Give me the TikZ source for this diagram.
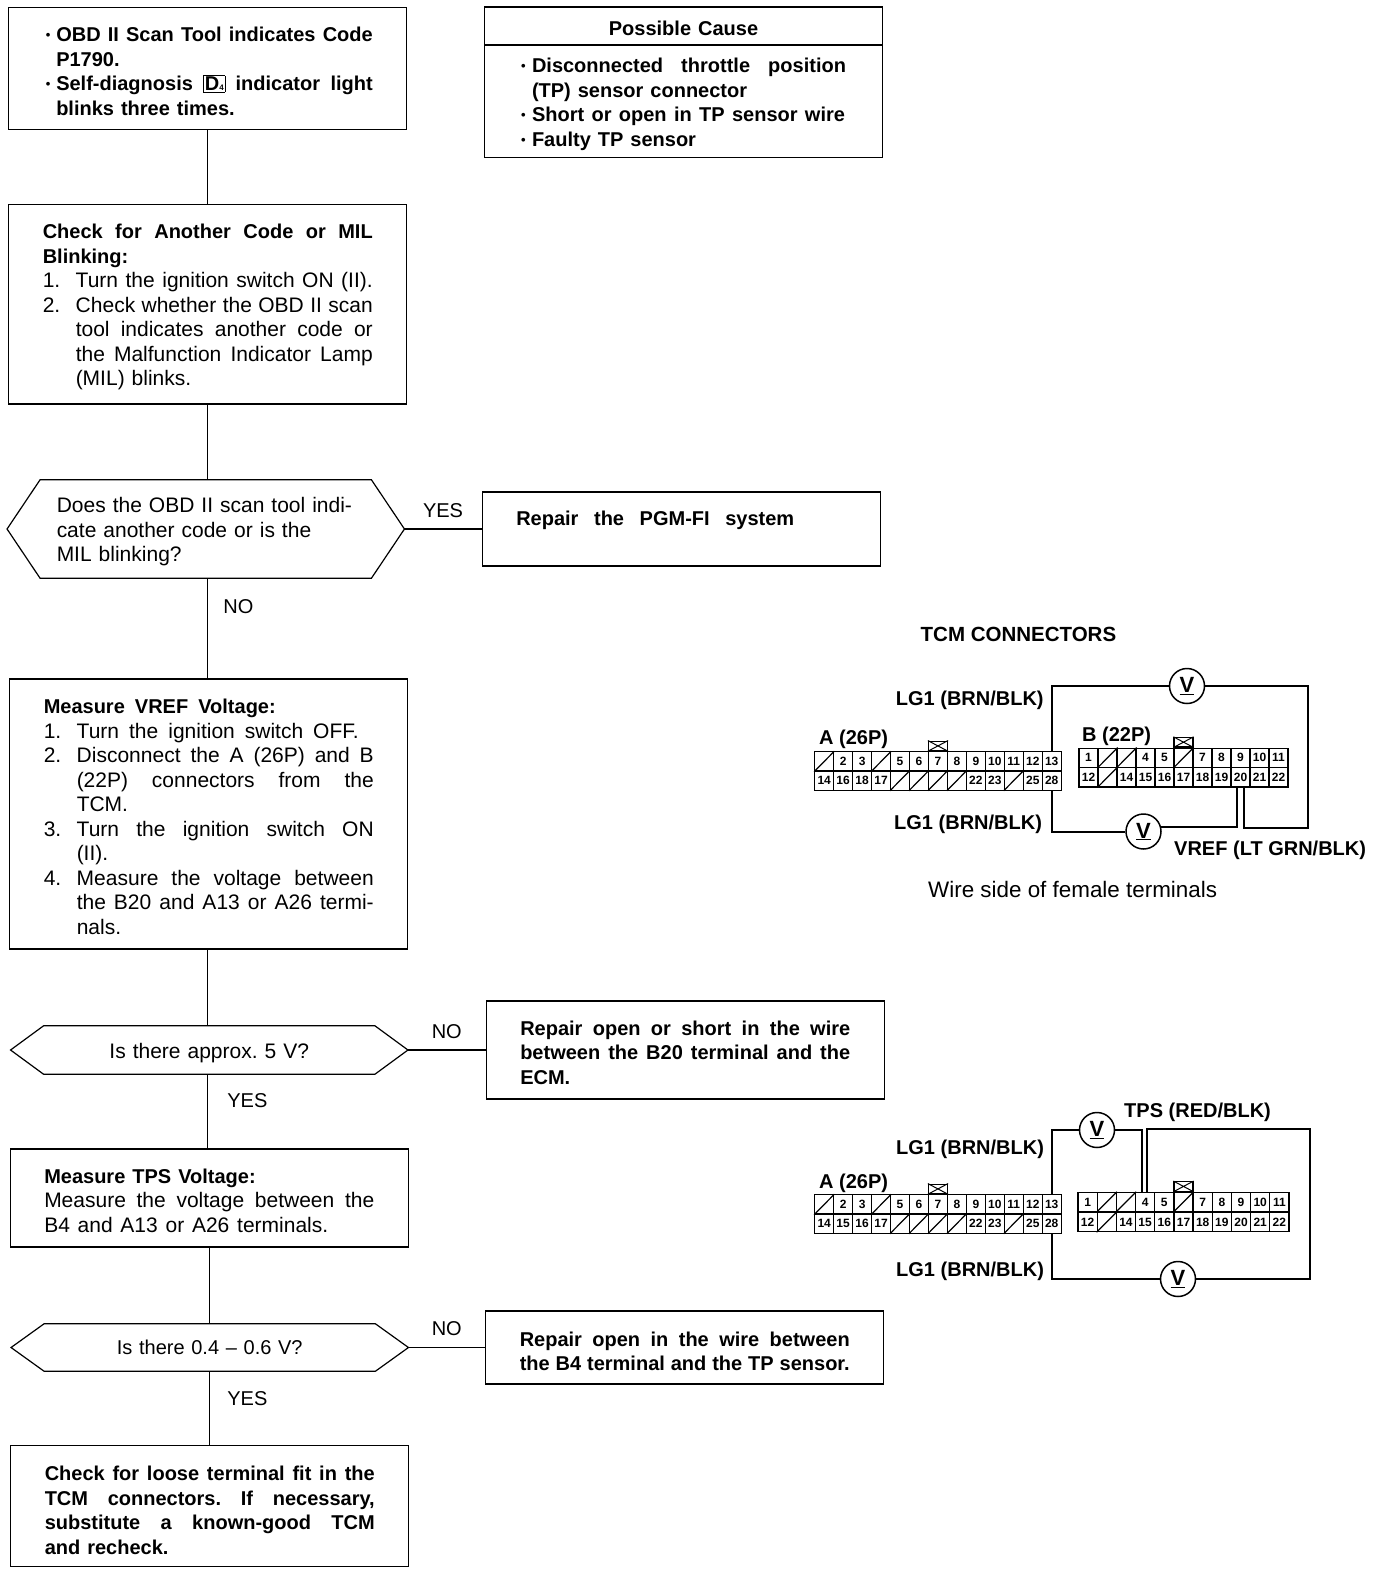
\documentclass[tikz,border=0pt]{standalone}
\usepackage{fontspec}
\setmainfont{Liberation Sans}
\usetikzlibrary{positioning}
\tikzset{
    block/.style = {draw, rectangle, line width=1.3pt, inner xsep=0pt, inner ysep=0pt,
        minimum width=398pt, text width=330pt, text height=20pt, align=left,
        font=\fontsize{21}{24.5}\selectfont\frenchspacing},
    hexa/.style = {rectangle, inner sep=0pt, minimum width=397pt, text width=330pt,
        text height=20pt, align=left, font=\fontsize{21}{24.5}\selectfont\frenchspacing},
    lab/.style = {inner sep=0pt, font=\fontsize{20}{24}\selectfont},
    tag/.style = {inner sep=0pt, anchor=base west, font=\fontsize{20}{24}\selectfont\bfseries},
    conn/.style = {draw, line width=1.2pt},
    wire/.style = {draw, line width=2pt},
    cell/.style = {draw, rectangle, line width=1.2pt, inner sep=0pt, minimum height=19.3pt,
        font=\fontsize{12}{12}\selectfont\bfseries},
    latch/.style = {draw, rectangle, line width=1.2pt, inner sep=0pt, minimum width=19pt, minimum height=9.5pt},
    meter/.style = {draw, circle, line width=1.5pt, inner sep=0pt, minimum size=35pt, fill=white,
        font=\fontsize{22}{22}\selectfont\bfseries}
}
\newcommand{\jline}[2][\hsize]{\leavevmode\hbox to #1{\spaceskip=.278em plus 1fil minus .2em #2}}
\newcommand{\bfs}{\fontsize{20}{24.5}\selectfont\bfseries}
\newcommand{\numit}[1]{\makebox[33pt][l]{#1}}
\newcommand{\dotmark}{{\fontsize{13}{13}\selectfont\raisebox{2pt}{•}}}
\newcommand{\bul}{\makebox[13.5pt][l]{\hspace{3pt}\dotmark}}
\newcommand{\connrow}[5]{%
    \foreach \t [count=\c] in {#5}
        \node [cell, minimum width=#4pt] (#1\c) at ({#2+(\c-.5)*#4},#3) {\t};
}
\begin{document}
\begin{tikzpicture}[x=1pt, y=-1pt]
    \useasboundingbox (0,0) rectangle (1376,1574);
    % flow column
    \node [block, minimum height=122pt] (start) at (207.75,68.5) {\bfs
        \jline{\bul OBD II Scan Tool indicates Code}\\
        \hspace*{13.5pt}P1790.\\
        \jline{\bul Self-diagnosis {\fboxsep=1pt\fbox{D\fontsize{8}{8}\selectfont 4}} indicator light}\\
        \hspace*{13.5pt}blinks three times.};
    \node [block, below of=start, node distance=235.8pt, minimum height=199.4pt] (check) {%
        \jline{\bfs Check for Another Code or MIL}\\
        {\bfs Blinking:}\\
        \jline{\numit{1.}Turn the ignition switch ON (II).}\\
        \jline{\numit{2.}Check whether the OBD II scan}\\
        \jline{\hspace{33pt}tool indicates another code or}\\
        \jline{\hspace{33pt}the Malfunction Indicator Lamp}\\
        \hspace*{33pt}(MIL) blinks.};
    \node [hexa, below of=check, node distance=224.7pt, xshift=-2pt, minimum height=98pt, text height=21pt] (dec1) {%
        \hspace*{16pt}Does the OBD II scan tool indi-\\
        \hspace*{16pt}cate another code or is the\\
        \hspace*{16pt}MIL blinking?};
    \node [block, below of=dec1, node distance=285pt, xshift=3pt, minimum height=270pt] (measv) {%
        \jline[232pt]{\bfs Measure VREF Voltage:}\\
        \jline[315pt]{\numit{1.}Turn the ignition switch OFF.}\\
        \jline{\numit{2.}Disconnect the A (26P) and B}\\
        \jline{\hspace{33pt}(22P) connectors from the}\\
        \hspace*{33pt}TCM.\\
        \jline{\numit{3.}Turn the ignition switch ON}\\
        \hspace*{33pt}(II).\\
        \jline{\numit{4.}Measure the voltage between}\\
        \jline{\hspace{33pt}the B20 and A13 or A26 termi-}\\
        \hspace*{33pt}nals.};
    \node [hexa, below of=measv, node distance=236pt, xshift=.5pt, minimum height=48pt, text height=22pt, align=center] (dec2) {Is there approx. 5 V?};
    \node [block, below of=dec2, node distance=148pt, minimum height=98pt] (meast) {%
        {\bfs Measure TPS Voltage:}\\
        \jline{Measure the voltage between the}\\
        \jline[284pt]{B4 and A13 or A26 terminals.}};
    \node [hexa, below of=meast, node distance=149.5pt, xshift=.5pt, minimum height=47pt, text height=15pt, align=center, font=\fontsize{20}{24}\selectfont] (dec3) {Is there 0.4 -- 0.6 V?};
    \node [block, below of=dec3, node distance=158.5pt, minimum height=121pt, text height=23pt] (final) {\bfs
        \jline{Check for loose terminal fit in the}\\
        \jline{TCM connectors. If necessary,}\\
        \jline{substitute a known-good TCM}\\
        and recheck.};
    \foreach \h in {dec1,dec2,dec3}
        \draw [conn] (\h.west) -- ([xshift=33pt]\h.north west) -- ([xshift=-33pt]\h.north east) -- (\h.east)
            -- ([xshift=-33pt]\h.south east) -- ([xshift=33pt]\h.south west) -- cycle;
    % right column
    \node [block, minimum height=38pt, align=center] (causehead) at (683.5,26) {\bfs Possible Cause};
    \node [block, below of=causehead, node distance=75.5pt, minimum height=112pt, text width=325pt] (causebody) {\bfs
        \jline{\makebox[11pt][l]{\dotmark}Disconnected throttle position}\\
        \hspace*{11pt}(TP) sensor connector\\
        \jline[324pt]{\makebox[11pt][l]{\dotmark}Short or open in TP sensor wire}\\
        \makebox[11pt][l]{\dotmark}Faulty TP sensor};
    \node [block, right of=dec1, node distance=475.5pt, minimum height=74pt, text depth=28pt] (rep1) {\jline[278pt]{\bfs Repair the PGM-FI system}};
    \node [block, right of=dec2, node distance=476pt, minimum height=98pt] (rep2) {\bfs
        \jline{Repair open or short in the wire}\\
        \jline{between the B20 terminal and the}\\
        ECM.};
    \node [block, right of=dec3, node distance=475pt, minimum height=73pt, text height=22pt] (rep3) {\bfs
        \jline{Repair open in the wire between}\\
        \jline{the B4 terminal and the TP sensor.}};
    % connectors
    \draw [conn] (start) -- (check);
    \draw [conn] (check) -- (check |- dec1.north);
    \draw [conn] (check |- dec1.south) -- node [lab, pos=.28, right=15pt] {NO} (check |- measv.north);
    \draw [conn] (measv.south -| check) -- (check |- dec2.north);
    \draw [conn] (check |- dec2.south) -- node [lab, pos=.36, right=19pt] {YES} (check |- meast.north);
    \draw [conn] (dec3.north |- meast.south) -- (dec3.north);
    \draw [conn] (dec3.south) -- node [lab, pos=.37, right=17pt] {YES} (dec3.south |- final.north);
    \draw [conn] (dec1.east) -- node [lab, above=11pt] {YES} (rep1.west |- dec1.east);
    \draw [conn] (dec2.east) -- node [lab, above=11pt] {NO} (rep2.west |- dec2.east);
    \draw [conn] (dec3.east) -- node [lab, above=11pt] {NO} (rep3.west |- dec3.east);
    % first connector pair
    \node [tag, font=\fontsize{20.5}{24}\selectfont\bfseries] (tcmtitle) at (920.5,641.5) {TCM CONNECTORS};
    \connrow{atop}{814.7}{761.5}{18.96}{{},2,3,{},5,6,7,8,9,10,11,12,13}
    \connrow{abot}{814.7}{780.5}{18.96}{14,16,18,17,{},{},{},{},22,23,{},25,28}
    \connrow{btop}{1079}{757.75}{19}{1,{},{},4,5,{},7,8,9,10,11}
    \connrow{bbot}{1079}{777.25}{19}{12,{},14,15,16,17,18,19,20,21,22}
    \node [latch, above=0pt of atop7] (alatch) {};
    \node [latch, above=0pt of btop6] (blatch) {};
    \node [meter] (v1) at (1187,686) {\underline{V}};
    \node [meter] (v2) at (1143.5,831.5) {\underline{V}};
    \coordinate (cr1) at (1308,827.5);
    \draw [wire] (atop13.north) |- (v1);
    \draw [wire] (v1) -| (cr1) -| ([xshift=3.5pt]bbot9.south);
    \draw [wire] (abot13.south) |- (v2);
    \draw [wire] (v2.13) -| ([xshift=-4pt]bbot9.south);
    \node [tag] (lg1) at (895.7,705) {LG1 (BRN/BLK)};
    \node [tag] (lg2) at (894,829) {LG1 (BRN/BLK)};
    \node [tag] (aname) at (819,744) {A (26P)};
    \node [tag] (bname) at (1082,741) {B (22P)};
    \node [tag] (vref) at (1174,855) {VREF (LT GRN/BLK)};
    \node [lab, anchor=base west, font=\fontsize{22.4}{24}\selectfont] (wireside) at (928,897) {Wire side of female terminals};
    % second connector pair
    \connrow{ctop}{814.7}{1204.5}{18.96}{{},2,3,{},5,6,7,8,9,10,11,12,13}
    \connrow{cbot}{814.7}{1223.5}{18.96}{14,15,16,17,{},{},{},{},22,23,{},25,28}
    \connrow{dtop}{1078}{1202}{19.18}{1,{},{},4,5,{},7,8,9,10,11}
    \connrow{dbot}{1078}{1222}{19.18}{12,{},14,15,16,17,18,19,20,21,22}
    \node [latch, above=0pt of ctop7] (clatch) {};
    \node [latch, above=0pt of dtop6] (dlatch) {};
    \node [meter] (v3) at (1097,1130) {\underline{V}};
    \node [meter] (v4) at (1178,1279) {\underline{V}};
    \coordinate (cr2) at (1310,1129);
    \draw [wire] (ctop13.north) |- (v3);
    \draw [wire] (v3) -| ([xshift=-3.5pt]dtop4.north);
    \draw [wire] ([xshift=2pt]dtop4.north) |- (cr2) |- (v4);
    \draw [wire] (cbot13.south) |- (v4);
    \node [tag] (tps) at (1124,1117) {TPS (RED/BLK)};
    \node [tag] (lg3) at (896,1154) {LG1 (BRN/BLK)};
    \node [tag] (lg4) at (896,1276) {LG1 (BRN/BLK)};
    \node [tag] (cname) at (819,1188) {A (26P)};
    % slashes and latch crosses
    \foreach \n in {atop1,atop4,abot5,abot6,abot7,abot8,abot11,btop2,btop3,btop6,bbot2,
                    ctop1,ctop4,cbot5,cbot6,cbot7,cbot8,cbot11,dtop2,dtop3,dtop6,dbot2}
        \draw [line width=1.2pt] (\n.south west) -- (\n.north east);
    \foreach \n in {alatch,blatch,clatch,dlatch}
        \draw [line width=1pt] (\n.south west) -- (\n.north east) (\n.north west) -- (\n.south east);
\end{tikzpicture}
\end{document}
